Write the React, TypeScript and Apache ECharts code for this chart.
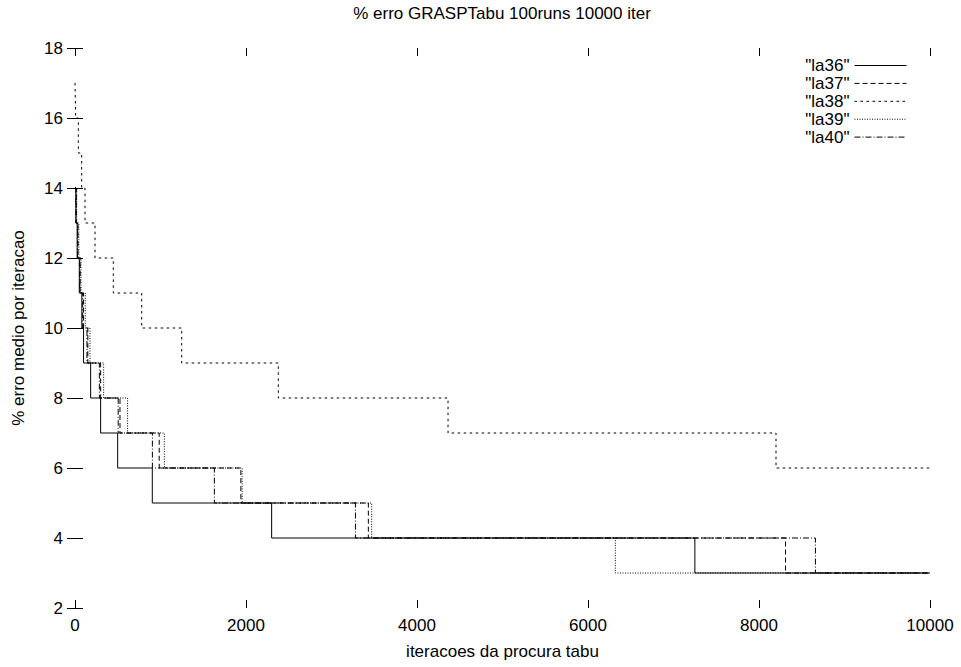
import React, { useEffect, useRef } from "react";
import * as echarts from "echarts";

// Data (step curves: each point = start of a level)
const la36X = [0, 10, 25, 50, 80, 100, 183, 300, 499, 904, 2300, 7250, 10000];
const la36Y = [14, 13, 12, 11, 10, 9, 8, 7, 6, 5, 4, 3, 3];

const la37X = [0, 15, 35, 60, 100, 150, 300, 526, 985, 1940, 3431, 8310, 10000];
const la37Y = [14, 13, 12, 11, 10, 9, 8, 7, 6, 5, 4, 3, 3];

const la38X = [0, 8, 39, 78, 117, 234, 448, 780, 1248, 2378, 4363, 8199, 10000];
const la38Y = [17, 16, 15, 14, 13, 12, 11, 10, 9, 8, 7, 6, 6];

const la39X = [0, 20, 45, 70, 120, 175, 335, 615, 1045, 1955, 3470, 6320, 10000];
const la39Y = [14, 13, 12, 11, 10, 9, 8, 7, 6, 5, 4, 3, 3];

const la40X = [0, 10, 30, 55, 90, 140, 285, 505, 905, 1630, 3280, 8660, 10000];
const la40Y = [14, 13, 12, 11, 10, 9, 8, 7, 6, 5, 4, 3, 3];

const seriesNames = ['"la36"', '"la37"', '"la38"', '"la39"', '"la40"'];
const seriesX = [la36X, la37X, la38X, la39X, la40X];
const seriesY = [la36Y, la37Y, la38Y, la39Y, la40Y];
const dashTypes: any[] = ["solid", [5, 3], [2.5, 3.5], [1, 1.5], [6, 2, 1, 2]];

const titleText = "% erro GRASPTabu 100runs 10000 iter";
const xName = "iteracoes da procura tabu";
const yName = "% erro medio por iteracao";

const FONT = "Liberation Sans";
const FS = 17;

export default function App() {
  const ref = useRef<HTMLDivElement>(null);
  useEffect(() => {
    if (!ref.current) return;
    const chart = echarts.init(ref.current, undefined, { renderer: "svg" });
    const tickCommon = { show: true, inside: true, length: 8, lineStyle: { color: "#000", width: 1 } };
    const option: any = {
      animation: false,
      backgroundColor: "#fff",
      textStyle: { fontFamily: FONT, color: "#000" },
      title: {
        text: titleText,
        left: 502,
        top: 5,
        padding: 0,
        textAlign: "center",
        textStyle: { fontFamily: FONT, fontSize: FS, fontWeight: "normal", color: "#000" },
      },
      legend: {
        orient: "vertical",
        right: 49,
        top: 52,
        align: "right",
        itemWidth: 52,
        itemHeight: 12,
        itemGap: 0.9,
        itemStyle: { color: "rgba(0,0,0,0)", borderWidth: 0, opacity: 0 },
        lineStyle: { width: 1 },
        textStyle: { fontFamily: FONT, fontSize: FS, color: "#000" },
        data: seriesNames,
      },
      grid: { left: 75, right: 31, top: 48, bottom: 59, containLabel: false },
      xAxis: [
        {
          type: "value",
          min: 0,
          max: 10000,
          interval: 2000,
          position: "bottom",
          axisLine: { show: false },
          splitLine: { show: false },
          axisTick: tickCommon,
          axisLabel: {
            color: "#000",
            fontFamily: FONT,
            fontSize: FS,
            margin: 9,
            formatter: (v: number) => String(v),
          },
          name: xName,
          nameLocation: "middle",
          nameGap: 35,
          nameTextStyle: { fontFamily: FONT, fontSize: FS, color: "#000" },
        },
        {
          type: "value",
          min: 0,
          max: 10000,
          interval: 2000,
          position: "top",
          axisLine: { show: false },
          splitLine: { show: false },
          axisTick: tickCommon,
          axisLabel: { show: false },
        },
      ],
      yAxis: [
        {
          type: "value",
          min: 2,
          max: 18,
          interval: 2,
          position: "left",
          axisLine: { show: false },
          splitLine: { show: false },
          axisTick: tickCommon,
          axisLabel: {
            color: "#000",
            fontFamily: FONT,
            fontSize: FS,
            margin: 12,
            formatter: (v: number) => String(v),
          },
          name: yName,
          nameLocation: "middle",
          nameGap: 48,
          nameTextStyle: { fontFamily: FONT, fontSize: FS, color: "#000" },
        },
        {
          type: "value",
          min: 2,
          max: 18,
          interval: 2,
          position: "right",
          axisLine: { show: false },
          splitLine: { show: false },
          axisTick: tickCommon,
          axisLabel: { show: false },
        },
      ],
      series: seriesNames.map((name, i) => ({
        name,
        type: "line",
        step: "end",
        xAxisIndex: 0,
        yAxisIndex: 0,
        symbol: "none",
        showSymbol: false,
        color: "#000",
        lineStyle: { color: "#000", width: 1, type: dashTypes[i] },
        data: seriesX[i].map((x, j) => [x, seriesY[i][j]]),
      })),
    };
    chart.setOption(option);
    return () => chart.dispose();
  }, []);
  return (
    <div
      ref={ref}
      style={{ position: "absolute", left: 0, top: 0, width: 961, height: 667, background: "#fff" }}
    />
  );
}
